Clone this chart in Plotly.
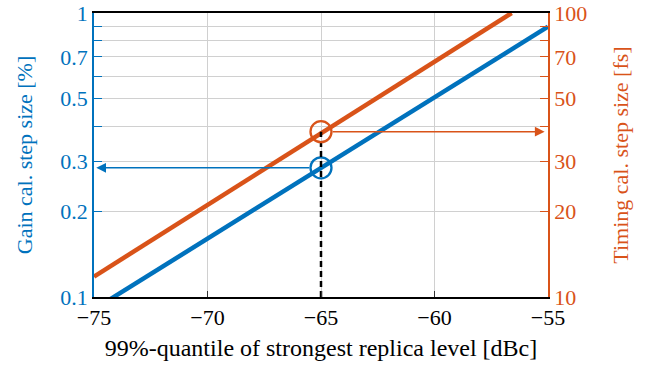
import math
import plotly.graph_objects as go

BLUE = "#0072BD"
ORANGE = "#D95319"
FONT = "Liberation Serif"

# x range and ticks
x_ticks = [-75, -70, -65, -60, -55]

# Line endpoints
gain_x = [-75, -55]
gain_y = [0.0905, 0.895]          # [%]
timing_x = [-75, -56.6]
timing_y = [11.8, 100.0]          # [fs]

# operating point
op_x = [-65]
op_gain = [0.285]
op_timing = [38.2]

# arrow ends (tail, head)
gain_arrow_x = [-65.45, -74.9]
timing_arrow_x = [-64.55, -55.15]

# tick values / labels
left_vals = [0.1, 0.2, 0.3, 0.4, 0.5, 0.6, 0.7, 0.8, 0.9, 1]
left_text = ["0.1", "0.2", "0.3", "", "0.5", "", "0.7", "", "", "1"]
right_vals = [10, 20, 30, 40, 50, 60, 70, 80, 90, 100]
right_text = ["10", "20", "30", "", "50", "", "70", "", "", "100"]

fig = go.Figure()

fig.add_trace(go.Scatter(x=timing_x, y=timing_y, yaxis="y2", mode="lines",
                         line=dict(color=ORANGE, width=4.5), showlegend=False))
fig.add_trace(go.Scatter(x=gain_x, y=gain_y, mode="lines",
                         line=dict(color=BLUE, width=4.5), showlegend=False))
# dashed vertical line
fig.add_trace(go.Scatter(x=[op_x[0], op_x[0]], y=[10, op_timing[0]], yaxis="y2", mode="lines",
                         line=dict(color="black", width=2.5, dash="6px,4px"), showlegend=False))
# circles
fig.add_trace(go.Scatter(x=op_x, y=op_gain, mode="markers",
                         marker=dict(symbol="circle-open", size=21, color=BLUE, line=dict(width=2.3, color=BLUE)),
                         showlegend=False))
fig.add_trace(go.Scatter(x=op_x, y=op_timing, yaxis="y2", mode="markers",
                         marker=dict(symbol="circle-open", size=21, color=ORANGE, line=dict(width=2.3, color=ORANGE)),
                         showlegend=False))

fig.add_annotation(x=gain_arrow_x[1], y=math.log10(op_gain[0]), xref="x", yref="y",
                   ax=gain_arrow_x[0], ay=math.log10(op_gain[0]), axref="x", ayref="y",
                   showarrow=True, arrowhead=2, arrowsize=1.3, arrowwidth=1.5, arrowcolor=BLUE, text="")
fig.add_annotation(x=timing_arrow_x[1], y=math.log10(op_timing[0]), xref="x", yref="y2",
                   ax=timing_arrow_x[0], ay=math.log10(op_timing[0]), axref="x", ayref="y2",
                   showarrow=True, arrowhead=2, arrowsize=1.3, arrowwidth=1.5, arrowcolor=ORANGE, text="")

fig.update_layout(
    width=651, height=373,
    margin=dict(l=94, r=103, t=13, b=76),
    plot_bgcolor="white", paper_bgcolor="white",
    font=dict(family=FONT, size=22),
    xaxis=dict(range=[-75, -55], tickvals=x_ticks, ticks="inside", ticklen=6, tickcolor="#333",
               showline=True, linecolor="black", linewidth=1.5, mirror=True, automargin=False,
               showgrid=True, gridcolor="#d0d0d0", gridwidth=1, zeroline=False,
               tickfont=dict(family=FONT, size=22, color="black"),
               title=dict(text="99%-quantile of strongest replica level [dBc]",
                          font=dict(family=FONT, size=24, color="black"), standoff=10)),
    yaxis=dict(type="log", range=[-1, 0], tickvals=left_vals, ticktext=left_text,
               ticks="inside", ticklen=8, tickcolor=BLUE, automargin=False,
               showline=True, linecolor=BLUE, linewidth=1.5,
               showgrid=True, gridcolor="#d0d0d0", gridwidth=1, zeroline=False,
               tickfont=dict(family=FONT, size=22, color=BLUE),
               title=dict(text="Gain cal. step size [%]", font=dict(family=FONT, size=22, color=BLUE), standoff=22)),
    yaxis2=dict(type="log", range=[1, 2], overlaying="y", side="right",
                tickvals=right_vals, ticktext=right_text, automargin=False,
                ticks="inside", ticklen=8, tickcolor=ORANGE,
                showline=True, linecolor=ORANGE, linewidth=1.5,
                showgrid=False, zeroline=False,
                tickfont=dict(family=FONT, size=22, color=ORANGE),
                title=dict(text="Timing cal. step size [fs]", font=dict(family=FONT, size=22, color=ORANGE), standoff=26)),
)

fig.write_html("out.html", config={"displayModeBar": False},
               post_script="document.body.style.margin='0';")
